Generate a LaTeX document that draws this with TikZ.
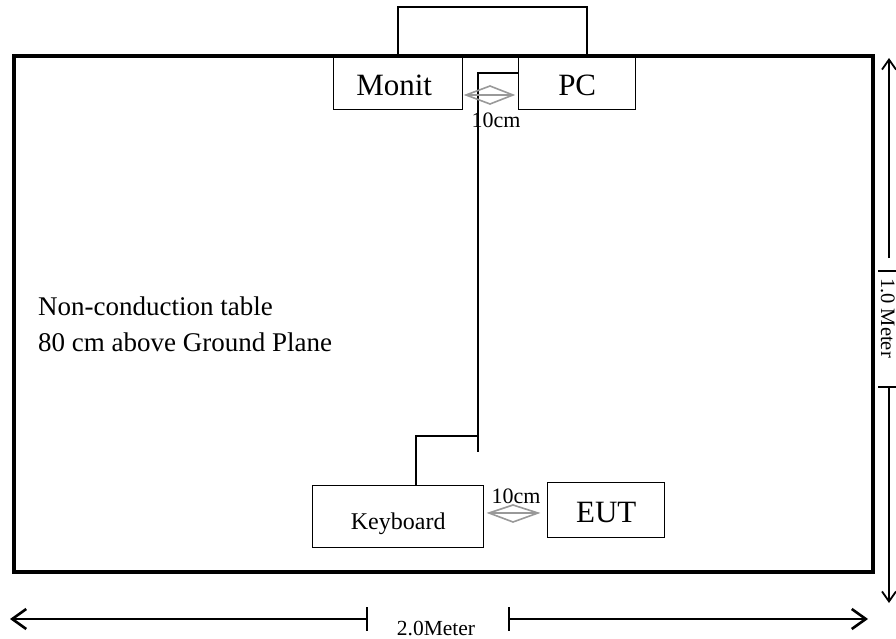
\documentclass[tikz,border=0pt]{standalone}
\usepackage{fontspec}
\setmainfont{Liberation Serif}
\usetikzlibrary{arrows.meta,calc}
\begin{document}
\begin{tikzpicture}[x=1pt,y=-1pt,
  box/.style={draw,line width=1.4pt,inner sep=0pt,anchor=north west},
  wire/.style={line width=1.5pt},
  gap/.style={draw=gray!80,line width=1.6pt},
  dim/.style={line width=1.4pt},
  bigtip/.style={-{Straight Barb[length=14pt,width=20pt,line width=2.6pt]}},
  vtip/.style={-{Straight Barb[length=10pt,width=14pt,line width=1.8pt]}},
  lbl/.style={inner sep=0pt}]
\useasboundingbox (0,0) rectangle (896,639);
% table
\node[draw,line width=4pt,minimum width=859pt,minimum height=516pt,inner sep=0pt,anchor=north west] (table) at (12,54) {};
% boxes
\node[box,minimum width=129pt,minimum height=52pt] (mon) at (333,57) {};
\node[lbl,font=\fontsize{31}{34}\selectfont] (mont) at ($(mon.center)+(-4,2)$) {Monit};
\node[box,minimum width=117pt,minimum height=52pt] (pc) at (518,57) {};
\node[lbl,font=\fontsize{31}{34}\selectfont] (pct) at ($(pc.center)+(0,2)$) {PC};
\node[box,minimum width=171pt,minimum height=62pt] (kb) at (312,485) {};
\node[lbl,font=\fontsize{24}{26}\selectfont] (kbt) at ($(kb.center)+(0,7)$) {Keyboard};
\node[box,minimum width=117pt,minimum height=55pt] (eut) at (547,482) {};
\node[lbl,font=\fontsize{31}{34}\selectfont] (eutt) at ($(eut.center)+(0,2)$) {EUT};
% top bracket
\coordinate (b1) at (398,54);
\coordinate (b2) at (587,54);
\draw[wire] (b1) -- (398,7) -- (587,7) -- (b2);
% cable
\coordinate (c1) at (pc.west |- 0,73);
\coordinate (c2) at (478,73);
\coordinate (c3) at (478,452);
\coordinate (c4) at (478,436);
\coordinate (c5) at (416,436);
\draw[wire] (c1) -- (c2) -- (c3);
\draw[wire] (c4) -- (c5) -- (c5 |- kb.north);
% gap diamonds
\draw[gap] (466,95) -- (490,86) -- (513,95) -- (490,104) -- cycle;
\draw[gap] (466,95) -- (513,95);
\node[lbl,font=\fontsize{22}{24}\selectfont] (g1) at (496,120) {10cm};
\draw[gap] (489,513) -- (513,505) -- (538,513) -- (513,522) -- cycle;
\draw[gap] (489,513) -- (538,513);
\node[lbl,font=\fontsize{22}{24}\selectfont] (g2) at (516,496) {10cm};
% table text
\node[lbl,anchor=base west,font=\fontsize{27}{30}\selectfont] (t1) at (38,315) {Non-conduction table};
\node[lbl,anchor=base west,font=\fontsize{27}{30}\selectfont] (t2) at (38,351) {80 cm above Ground Plane};
% right dimension
\coordinate (r1) at (889,258);
\coordinate (r2) at (889,58);
\coordinate (r3) at (889,387);
\coordinate (r4) at (889,603);
\draw[dim,vtip] (r1) -- (r2);
\draw[dim,vtip] (r3) -- (r4);
\draw[dim] (878,271) -- (896,271);
\draw[dim] (878,387) -- (896,387);
\node[lbl,rotate=-90,anchor=base,font=\fontsize{20.5}{23}\selectfont] (rt) at (881,318) {1.0 Meter};
% bottom dimension
\coordinate (l1) at (367,619);
\coordinate (l2) at (10,619);
\coordinate (l3) at (509,619);
\coordinate (l4) at (868,619);
\draw[dim,bigtip] (l1) -- (l2);
\draw[dim,bigtip] (l3) -- (l4);
\draw[dim] (367,607) -- (367,631);
\draw[dim] (509,607) -- (509,631);
\node[lbl,anchor=base,font=\fontsize{21.5}{23}\selectfont] (bt) at (436,635) {2.0Meter};
\end{tikzpicture}
\end{document}
